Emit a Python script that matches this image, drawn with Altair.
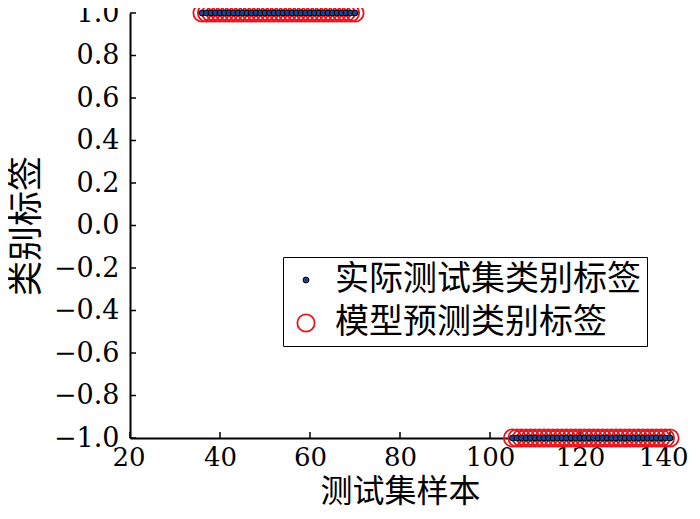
import altair as alt
import pandas as pd

# data
pos_samples = list(range(36, 71))      # samples labelled +1
neg_samples = list(range(105, 141))    # samples labelled -1
pos_label = 1
neg_label = -1
series_true = "实际测试集类别标签"
series_pred = "模型预测类别标签"
x_ticks = [20, 40, 60, 80, 100, 120, 140]
y_ticks = [-1.0, -0.8, -0.6, -0.4, -0.2, 0.0, 0.2, 0.4, 0.6, 0.8, 1.0]

samples = pos_samples + neg_samples
labels = [pos_label] * len(pos_samples) + [neg_label] * len(neg_samples)

rows = []
for s, l in zip(samples, labels):
    rows.append({"x": s, "y": l, "series": series_pred, "o": 0})
for s, l in zip(samples, labels):
    rows.append({"x": s, "y": l, "series": series_true, "o": 1})
df = pd.DataFrame(rows)

W, H = 540, 425
CJK = "Noto Sans CJK SC"
NUM = "DejaVu Serif"

xs = alt.Scale(domain=[20, 140], nice=False, zero=False)
ys = alt.Scale(domain=[-1, 1], nice=False, zero=False)

domain_sel = [series_true, series_pred]


def leg():
    return alt.Legend(title=None, orient="none", legendX=153, legendY=244,
                      labelFont=CJK, labelFontSize=34, labelColor="black",
                      labelLimit=600, strokeColor="black", padding=6,
                      fillColor="white", rowPadding=9, symbolStrokeWidth=1.8,
                      labelOffset=12)


points = alt.Chart(df).mark_point(filled=False, opacity=1, clip=False).encode(
    x=alt.X("x:Q", scale=xs,
            axis=alt.Axis(values=x_ticks, format="d", title="测试集样本",
                          tickSize=0, labelPadding=6, titlePadding=6,
                          labelFlush=True, labelFlushOffset=18, labelOverlap=False,
                          labelFontSize=26, labelFont=NUM, labelColor="black",
                          titleFont=CJK, titleFontSize=32, titleFontWeight="normal",
                          titleColor="black", domainColor="black", domainWidth=2,
                          grid=False)),
    y=alt.Y("y:Q", scale=ys,
            axis=alt.Axis(values=y_ticks, format=".1f", title="类别标签",
                          tickSize=0, labelPadding=11, titlePadding=9,
                          labelFlush=False, labelOverlap=False,
                          labelFontSize=27, labelFont=NUM, labelColor="black",
                          titleFont=CJK, titleFontSize=35, titleFontWeight="normal",
                          titleColor="black", domainColor="black", domainWidth=2,
                          grid=False)),
    color=alt.Color("series:N",
                    scale=alt.Scale(domain=domain_sel, range=["black", "#e8141c"]),
                    legend=leg()),
    fill=alt.Fill("series:N",
                  scale=alt.Scale(domain=domain_sel, range=["#1f3f8f", "transparent"]),
                  legend=leg()),
    size=alt.Size("series:N",
                  scale=alt.Scale(domain=domain_sel, range=[35, 300]),
                  legend=leg()),
    strokeWidth=alt.StrokeWidth("series:N",
                                scale=alt.Scale(domain=domain_sel, range=[1, 1.8]),
                                legend=None),
    order=alt.Order("o:Q"),
)

xt = alt.Chart(pd.DataFrame({"t": x_ticks})).mark_rule(color="black", strokeWidth=1.5).encode(
    x=alt.X("t:Q", scale=xs), y=alt.value(H), y2=alt.value(H - 6))
yt = alt.Chart(pd.DataFrame({"t": y_ticks})).mark_rule(color="black", strokeWidth=1.5).encode(
    y=alt.Y("t:Q", scale=ys), x=alt.value(0), x2=alt.value(6))

chart = alt.layer(xt, yt, points).properties(
    width=W, height=H,
    autosize=alt.AutoSizeParams(type="none"),
    padding={"left": 122, "top": 5, "right": 22, "bottom": 73},
).configure_view(stroke=None).configure_axis(domainColor="black")

chart.save("out.html", embed_options={"renderer": "svg", "actions": False})
